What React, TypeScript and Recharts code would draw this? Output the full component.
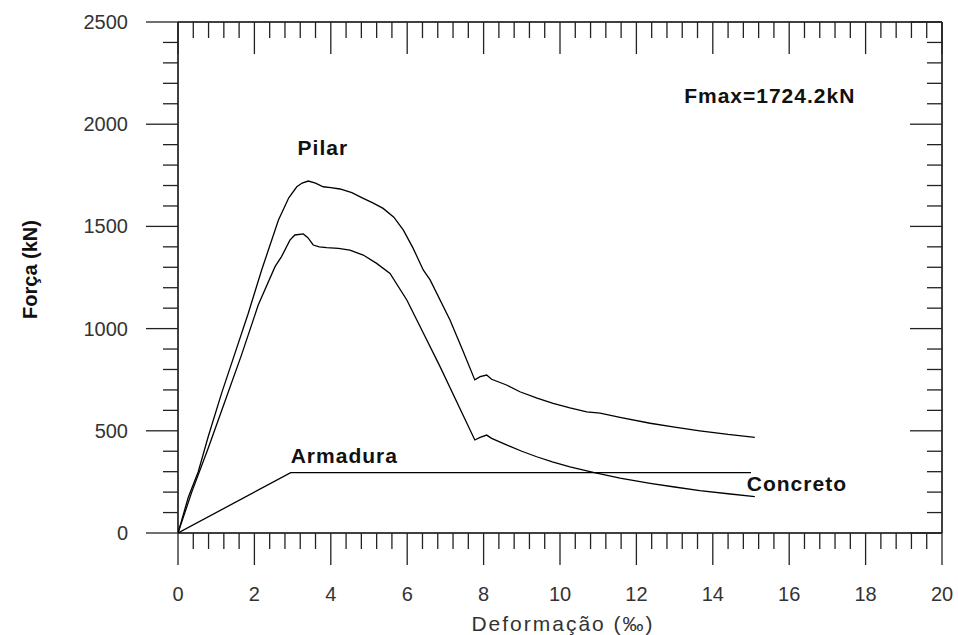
import { LineChart, Line, XAxis, YAxis, ReferenceDot } from "recharts";

// Pilar (total) curve
const pilarDef = [0, 0.27, 0.53, 0.79, 1.14, 1.49, 1.84, 2.19, 2.63, 2.9, 3.11, 3.25, 3.41, 3.6, 3.8, 4.0, 4.24, 4.55, 4.85, 5.1, 5.37, 5.65, 5.9, 6.15, 6.42, 6.6, 7.12, 7.45, 7.77, 7.91, 8.08, 8.21, 8.6, 8.95, 9.4, 9.82, 10.26, 10.7, 11.05, 11.57, 12.36, 13.0, 13.66, 14.4, 15.1];
const pilarF = [0, 175, 300, 471, 683, 879, 1075, 1287, 1531, 1640, 1694, 1712, 1722, 1712, 1694, 1690, 1683, 1665, 1637, 1615, 1588, 1545, 1482, 1395, 1287, 1238, 1042, 895, 749, 765, 773, 752, 724, 691, 660, 634, 612, 593, 586, 566, 537, 518, 500, 482, 468];

// Concreto curve
const concDef = [0, 0.36, 0.79, 1.23, 1.67, 2.1, 2.54, 2.71, 2.93, 3.06, 3.28, 3.4, 3.54, 3.7, 3.89, 4.2, 4.5, 4.85, 5.2, 5.55, 5.99, 6.34, 6.86, 7.77, 7.91, 8.08, 8.21, 8.6, 9.0, 9.39, 9.8, 10.26, 10.87, 11.57, 12.36, 13.0, 13.66, 14.4, 15.1];
const concF = [0, 200, 415, 645, 875, 1115, 1303, 1352, 1433, 1458, 1463, 1445, 1409, 1400, 1396, 1392, 1384, 1360, 1319, 1270, 1140, 1009, 814, 455, 468, 479, 463, 431, 400, 373, 348, 324, 297, 268, 243, 225, 207, 192, 178];

// Armadura (steel) curve
const armDef = [0, 2.95, 15];
const armF = [0, 295, 295];

const xMajor = [0, 2, 4, 6, 8, 10, 12, 14, 16, 18, 20];
const yMajor = [0, 500, 1000, 1500, 2000, 2500];

// minor ticks: 5 per major step on x, 5 per major step on y
const xTicks: number[] = [];
for (let k = 0; k <= 50; k++) xTicks.push(Number((k * 0.4).toFixed(1)));
const yTicks: number[] = [];
for (let k = 0; k <= 25; k++) yTicks.push(k * 100);

const notes = [
  { text: "Pilar", x: 3.13, y: 1849 },
  { text: "Armadura", x: 2.95, y: 342 },
  { text: "Concreto", x: 14.89, y: 207 },
  { text: "Fmax=1724.2kN", x: 13.25, y: 2102 },
];

const toRows = (xs: number[], ys: number[]) => xs.map((x, i) => ({ x, f: ys[i] }));
const pilarData = toRows(pilarDef, pilarF);
const concData = toRows(concDef, concF);
const armData = toRows(armDef, armF);

const FONT = "'Liberation Sans', Arial, sans-serif";
const TICK = "#222";

const XTick = ({ x, y, payload, showLabel }: any) => {
  const v = payload.value;
  const major = xMajor.includes(v);
  return (
    <g>
      <line x1={x} x2={x} y1={y} y2={y + (major ? 32 : 16)} stroke={TICK} strokeWidth={1.3} />
      {showLabel && major && (
        <text x={x} y={y + 68} textAnchor="middle" fontFamily={FONT} fontSize={20} fill="#333">
          {v}
        </text>
      )}
    </g>
  );
};

const YTick = ({ x, y, payload, showLabel }: any) => {
  const v = payload.value;
  const major = yMajor.includes(v);
  return (
    <g>
      <line x1={x - (major ? 32 : 15)} x2={x} y1={y} y2={y} stroke={TICK} strokeWidth={1.3} />
      {showLabel && major && (
        <text x={x - 50} y={y + 7} textAnchor="end" fontFamily={FONT} fontSize={20} fill="#333">
          {v}
        </text>
      )}
    </g>
  );
};

const Note = ({ cx, cy, text }: any) => (
  <text x={cx} y={cy} fontFamily={FONT} fontSize={21} fontWeight="bold" letterSpacing={1} fill="#111">
    {text}
  </text>
);

const axisLine = { stroke: "#000", strokeWidth: 1.5 };

export default function App() {
  return (
    <div style={{ position: "absolute", left: 0, top: 0, background: "#fff" }}>
      <LineChart width={958} height={635} margin={{ top: 21, right: 15, bottom: 101, left: 177 }}>
        <XAxis
          xAxisId="x"
          type="number"
          dataKey="x"
          domain={[0, 20]}
          allowDataOverflow
          ticks={xTicks}
          interval={0}
          height={1}
          tickSize={0}
          tickMargin={0}
          tickLine={false}
          axisLine={axisLine}
          tick={<XTick showLabel />}
          label={{
            value: "Deformação (‰)",
            content: ({ viewBox }: any) => (
              <text
                x={viewBox.x + viewBox.width / 2 + 3}
                y={viewBox.y + 98}
                textAnchor="middle"
                fontFamily={FONT}
                fontSize={21}
                letterSpacing={2}
                fill="#333"
              >
                Deformação (‰)
              </text>
            ),
          }}
        />
        <XAxis
          xAxisId="xTop"
          orientation="top"
          type="number"
          dataKey="x"
          domain={[0, 20]}
          allowDataOverflow
          ticks={xTicks}
          interval={0}
          height={1}
          tickSize={0}
          tickMargin={0}
          tickLine={false}
          axisLine={axisLine}
          tick={<XTick showLabel={false} />}
        />
        <YAxis
          yAxisId="y"
          type="number"
          domain={[0, 2500]}
          allowDataOverflow
          ticks={yTicks}
          interval={0}
          width={1}
          tickSize={0}
          tickMargin={0}
          tickLine={false}
          axisLine={axisLine}
          tick={<YTick showLabel />}
          label={{
            value: "Força (kN)",
            content: ({ viewBox }: any) => {
              const cx = viewBox.x - 147;
              const cy = viewBox.y + viewBox.height / 2 - 8;
              return (
                <text
                  x={cx}
                  y={cy}
                  transform={`rotate(-90, ${cx}, ${cy})`}
                  textAnchor="middle"
                  dominantBaseline="central"
                  fontFamily={FONT}
                  fontSize={20}
                  fontWeight="bold"
                  fill="#111"
                >
                  Força (kN)
                </text>
              );
            },
          }}
        />
        <YAxis
          yAxisId="yRight"
          orientation="right"
          type="number"
          domain={[0, 2500]}
          allowDataOverflow
          ticks={yTicks}
          interval={0}
          width={1}
          tickSize={0}
          tickMargin={0}
          tickLine={false}
          axisLine={axisLine}
          tick={<YTick showLabel={false} />}
        />

        <Line xAxisId="x" yAxisId="y" data={pilarData} dataKey="f" type="linear" stroke="#000" strokeWidth={1.3} dot={false} isAnimationActive={false} />
        <Line xAxisId="x" yAxisId="y" data={concData} dataKey="f" type="linear" stroke="#000" strokeWidth={1.3} dot={false} isAnimationActive={false} />
        <Line xAxisId="x" yAxisId="y" data={armData} dataKey="f" type="linear" stroke="#000" strokeWidth={1.3} dot={false} isAnimationActive={false} />

        {notes.map((n) => (
          <ReferenceDot
            key={n.text}
            xAxisId="x"
            yAxisId="y"
            x={n.x}
            y={n.y}
            ifOverflow="visible"
            shape={(p: any) => <Note cx={p.cx} cy={p.cy} text={n.text} />}
          />
        ))}
      </LineChart>
    </div>
  );
}
